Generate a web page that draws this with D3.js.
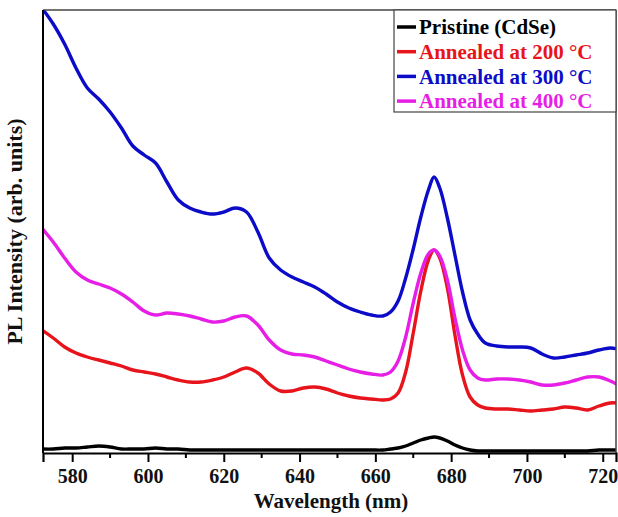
<!DOCTYPE html>
<html lang="en">
<head>
<meta charset="UTF-8">
<title>PL spectra</title>
<script src="https://cdnjs.cloudflare.com/ajax/libs/d3/7.8.5/d3.min.js"></script>
<style>
    body { margin: 0; background: #fff; }
    svg { display: block; font-family: "Liberation Serif", "Times New Roman", serif; font-weight: bold; }
</style>
</head>
<body>
<div id="chart"></div>
<script>
    // wavelength grid (nm), shared by all spectra
    const wavelength = [572, 575, 578, 581, 584, 587, 590, 593, 596, 599, 602, 605, 608, 611, 614, 617, 620, 623, 626, 629,
        632, 635, 638, 641, 644, 647, 650, 653, 656, 659, 662, 664, 666, 668, 670, 672, 674, 675.5, 677, 679,
        681, 683, 685, 687, 689, 692, 695, 698, 701, 704, 707, 710, 713, 716, 719, 722, 724];

    // PL intensity (arb. units)
    const pristine = [4, 4, 5, 5, 6, 7, 6, 4, 4, 4, 5, 4, 4, 3, 3, 3, 3, 3, 3, 3,
        3, 3, 3, 3, 3, 3, 3, 3, 3, 3, 3, 4, 5, 7, 10, 13, 15, 16, 15, 12,
        8, 5, 3, 2, 2, 2, 2, 2, 2, 2, 2, 2, 2, 2, 3, 3, 3];
    const annealed200 = [123, 115, 106, 100, 96, 93, 90, 87, 83, 81, 79, 76, 73, 71, 71, 73, 76, 81, 85, 80,
        69, 62, 62, 65, 66, 64, 60, 57, 55, 54, 53, 54, 60, 81, 120, 162, 193, 203, 195, 165,
        118, 78, 56, 48, 45, 44, 44, 43, 42, 43, 44, 46, 45, 43, 47, 50, 50];
    const annealed300 = [445, 429, 409, 385, 365, 354, 341, 325, 307, 298, 290, 271, 253, 245, 241, 239, 241, 245, 241, 221,
        195, 183, 176, 171, 166, 159, 151, 145, 141, 138, 137, 141, 152, 175, 204, 236, 263, 276, 265, 235,
        198, 161, 133, 119, 110, 107, 106, 106, 105, 99, 95, 96, 98, 100, 103, 105, 104];
    const annealed400 = [225, 211, 195, 181, 173, 169, 165, 159, 151, 142, 138, 140, 139, 137, 134, 131, 132, 136, 137, 128,
        113, 103, 99, 98, 96, 92, 88, 84, 81, 79, 78, 81, 92, 116, 150, 180, 199, 203, 197, 173,
        135, 103, 83, 75, 73, 74, 74, 73, 71, 68, 68, 70, 73, 76, 76, 72, 68];

    const seriesNames = ["Pristine (CdSe)", "Annealed at 200 \u00B0C", "Annealed at 300 \u00B0C", "Annealed at 400 \u00B0C"];
    const seriesColors = ["#000000", "#e8141c", "#0b0bc8", "#e61ee6"];
    const seriesValues = [pristine, annealed200, annealed300, annealed400];

    const xTicks = [580, 600, 620, 640, 660, 680, 700, 720];
    const xMinorTicks = [590, 610, 630, 650, 670, 690, 710];

    const width = 618, height = 517;
    const margin = { top: 10, right: 2, bottom: 64, left: 43 };
    const innerW = width - margin.left - margin.right;
    const innerH = height - margin.top - margin.bottom;

    const svg = d3.select("#chart").append("svg")
        .attr("width", width)
        .attr("height", height);

    const x = d3.scaleLinear().domain([572.3, 723.5]).range([0, innerW]);
    const y = d3.scaleLinear().domain([0, 443]).range([innerH, 0]);

    const g = svg.append("g").attr("transform", `translate(${margin.left},${margin.top})`);

    g.append("clipPath").attr("id", "plot-clip")
        .append("rect").attr("width", innerW).attr("height", innerH);

    // spectra
    const line = d3.line()
        .x(d => x(d[0]))
        .y(d => y(d[1]))
        .curve(d3.curveCatmullRom.alpha(0.5));

    const order = [0, 1, 3, 2];
    order.forEach(i => {
        g.append("path")
            .datum(wavelength.map((w, j) => [w, seriesValues[i][j]]))
            .attr("clip-path", "url(#plot-clip)")
            .attr("fill", "none")
            .attr("stroke", seriesColors[i])
            .attr("stroke-width", 3.4)
            .attr("stroke-linejoin", "round")
            .attr("d", line);
    });

    // frame
    g.append("line").attr("x1", 0).attr("x2", innerW).attr("y1", 0).attr("y2", 0)
        .attr("stroke", "#444").attr("stroke-width", 1.5);
    g.append("line").attr("x1", innerW).attr("x2", innerW).attr("y1", 0).attr("y2", innerH)
        .attr("stroke", "#444").attr("stroke-width", 1.5);
    g.append("line").attr("x1", 0).attr("x2", 0).attr("y1", 0).attr("y2", innerH)
        .attr("stroke", "#000").attr("stroke-width", 2);

    // x axis
    const xAxis = g.append("g")
        .attr("transform", `translate(0,${innerH})`)
        .call(d3.axisBottom(x).tickValues(xTicks).tickSize(9).tickPadding(7).tickFormat(d3.format("d")));
    xAxis.select(".domain").attr("stroke", "#000").attr("stroke-width", 2.2);
    xAxis.selectAll(".tick line").attr("stroke-width", 2);
    xAxis.selectAll(".tick text")
        .attr("font-family", "'Liberation Serif', 'Times New Roman', serif")
        .attr("font-weight", "bold")
        .attr("font-size", 20)
        .attr("fill", "#111");

    g.append("g")
        .attr("transform", `translate(0,${innerH})`)
        .selectAll("line")
        .data(xMinorTicks)
        .join("line")
        .attr("x1", d => x(d)).attr("x2", d => x(d))
        .attr("y1", 0).attr("y2", 5)
        .attr("stroke", "#000").attr("stroke-width", 2);

    // axis titles
    svg.append("text")
        .attr("x", 331)
        .attr("y", 508)
        .attr("text-anchor", "middle")
        .attr("font-size", 21)
        .attr("fill", "#111")
        .text("Wavelength (nm)");

    svg.append("text")
        .attr("transform", `translate(22,${margin.top + innerH / 2}) rotate(-90)`)
        .attr("text-anchor", "middle")
        .attr("font-size", 22)
        .attr("fill", "#111")
        .text("PL Intensity (arb. units)");

    // legend
    const legend = svg.append("g");
    const lgLeft = 394, lgTop = 10, lgRight = width - margin.right, lgBottom = 112;
    legend.append("rect")
        .attr("x", lgLeft).attr("y", lgTop)
        .attr("width", lgRight - lgLeft).attr("height", lgBottom - lgTop)
        .attr("fill", "#fff").attr("stroke", "#444").attr("stroke-width", 1.2);

    const rows = legend.selectAll("g.row")
        .data(seriesNames)
        .join("g")
        .attr("class", "row")
        .attr("transform", (d, i) => `translate(${lgLeft + 3},${27 + i * 24.7})`);
    rows.append("line")
        .attr("x1", 0).attr("x2", 19)
        .attr("stroke", (d, i) => seriesColors[i])
        .attr("stroke-width", 3.5);
    rows.append("text")
        .attr("x", 22).attr("dy", "0.35em")
        .attr("font-size", 21)
        .attr("fill", (d, i) => seriesColors[i])
        .text(d => d);
</script>
</body>
</html>
